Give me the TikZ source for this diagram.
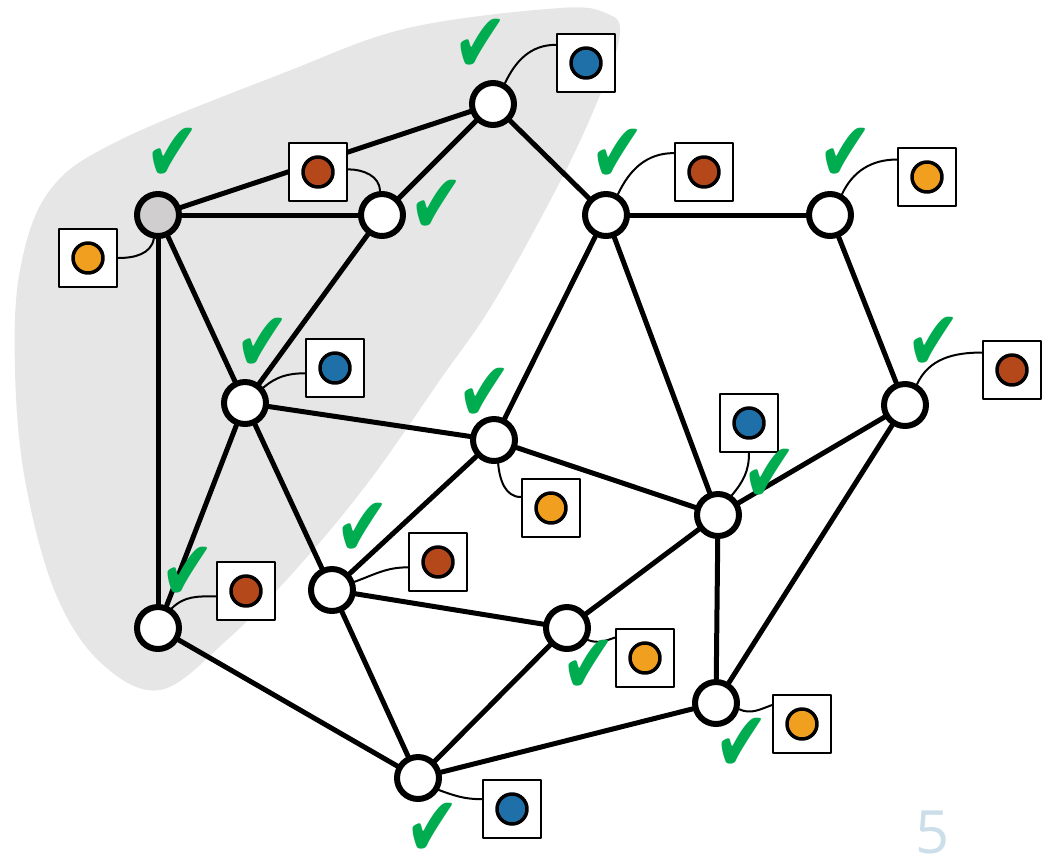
\documentclass[tikz,border=0pt]{standalone}
\usepackage{fontspec}
\newfontfamily\symfont{DejaVu Sans}
\setsansfont{Open Sans}
\usetikzlibrary{positioning}

\definecolor{tagblue}{RGB}{31,112,168}
\definecolor{tagbrown}{RGB}{180,72,26}
\definecolor{tagorange}{RGB}{240,160,30}
\definecolor{okgreen}{RGB}{0,172,80}
\definecolor{blobgray}{RGB}{230,230,230}
\definecolor{rootgray}{RGB}{208,206,206}
\definecolor{pagenum}{RGB}{205,222,235}
\newcommand\okmark{\scalebox{1}[1.3]{✔}}

\begin{document}
\begin{tikzpicture}[x=0.02cm,y=-0.02cm,line cap=round,line join=round,
    vertex/.style={circle,draw,line width=0.12cm,fill=white,minimum size=0.84cm,inner sep=0},
    link/.style={line width=0.1cm},
    tag/.style={draw,fill=white,line width=0.05cm,minimum size=1.16cm,inner sep=0,
      path picture={\draw[line width=0.07cm,fill=#1] (path picture bounding box.center) circle (0.3cm);}},
    wire/.style={line width=0.04cm},
    ok/.style={text=okgreen,font=\symfont\fontsize{37}{37}\selectfont,inner sep=0}]
    \useasboundingbox (0,0) rectangle (1042,863);
    % shaded region
    \fill[blobgray] plot[smooth cycle,tension=0.6] coordinates {(620,32) (606,80) (566,170) (495,300) (440,380) (370,480) (300,565) (227,640) (160,690) (100,662) (55,592) (25,480) (15,370) (20,270) (50,190) (120,140) (286,72) (408,28) (560,8) (608,14)};
    % vertices
    \node[vertex,fill=rootgray] (A) at (158,215) {};
    \node[vertex] (B) at (382,215) {};
    \node[vertex] (C) at (493,104) {};
    \node[vertex] (D) at (606,215) {};
    \node[vertex] (E) at (830,215) {};
    \node[vertex] (F) at (905,405) {};
    \node[vertex] (G) at (245,403) {};
    \node[vertex] (H) at (494,440) {};
    \node[vertex] (I) at (718,515) {};
    \node[vertex] (J) at (158,628) {};
    \node[vertex] (K) at (332,590) {};
    \node[vertex] (L) at (567,628) {};
    \node[vertex] (M) at (716,703) {};
    \node[vertex] (N) at (418,778) {};
    % edges
    \foreach \u/\v in {A/B,A/C,A/G,A/J,B/C,B/G,C/D,D/E,D/H,D/I,E/F,F/I,F/M,G/H,G/J,G/K,H/I,H/K,I/L,I/M,K/L,K/N,J/N,L/N,N/M}
        \draw[link] (\u) -- (\v);
    % tags
    \node[tag=tagorange] (tA) at (88,258) {};
    \node[tag=tagbrown] (tB) at (318,172) {};
    \node[tag=tagblue] (tC) at (586,63) {};
    \node[tag=tagbrown] (tD) at (704,172) {};
    \node[tag=tagorange] (tE) at (927,177) {};
    \node[tag=tagbrown] (tF) at (1012,370) {};
    \node[tag=tagblue] (tG) at (335,368) {};
    \node[tag=tagorange] (tH) at (551,508) {};
    \node[tag=tagblue] (tI) at (749,423) {};
    \node[tag=tagbrown] (tJ) at (246,591) {};
    \node[tag=tagbrown] (tK) at (438,562) {};
    \node[tag=tagorange] (tL) at (645,658) {};
    \node[tag=tagorange] (tM) at (802,724) {};
    \node[tag=tagblue] (tN) at (512,809) {};
    % wires
    \draw[wire] (A.-100) to[out=-100,in=0] (tA.east);
    \draw[wire] (tB.5) to[out=0,in=90] (B.95);
    \draw[wire] (C.60) to[out=65,in=180] (tC.149);
    \draw[wire] (D.60) to[out=65,in=180] (tD.148);
    \draw[wire] (E.60) to[out=65,in=180] (tE.150);
    \draw[wire] (F.60) to[out=65,in=180] (tF.150);
    \draw[wire] (G.40) to[out=40,in=180] (tG.190);
    \draw[wire] (H.-80) to[out=-85,in=180] (tH.160);
    \draw[wire] (tI.south) to[out=-90,in=50] (I.55);
    \draw[wire] (J.55) to[out=45,in=180] (tJ.190);
    \draw[wire] (K.20) to[out=20,in=180] (tK.190);
    \draw[wire] (L.-30) to[out=-20,in=200] (tL.146);
    \draw[wire] (M.-15) to[out=-25,in=200] (tM.148);
    \draw[wire] (N.-30) to[out=-20,in=180] (tN.162);
    % checks
    \node[ok] (kA) at (173,155) {\okmark};
    \node[ok] (kB) at (437,207) {\okmark};
    \node[ok] (kC) at (481,46) {\okmark};
    \node[ok] (kD) at (618,156) {\okmark};
    \node[ok] (kE) at (846,155) {\okmark};
    \node[ok] (kF) at (934,344) {\okmark};
    \node[ok] (kG) at (263,345) {\okmark};
    \node[ok] (kH) at (485,395) {\okmark};
    \node[ok] (kI) at (770,476) {\okmark};
    \node[ok] (kJ) at (188,574) {\okmark};
    \node[ok] (kK) at (363,530) {\okmark};
    \node[ok] (kL) at (589,667) {\okmark};
    \node[ok] (kM) at (742,745) {\okmark};
    \node[ok] (kN) at (433,830) {\okmark};
    % page number
    \node[anchor=north,text=pagenum,font=\sffamily\fontsize{34}{34}\selectfont,inner sep=0] (pg) at (933,810) {5};
\end{tikzpicture}
\end{document}
